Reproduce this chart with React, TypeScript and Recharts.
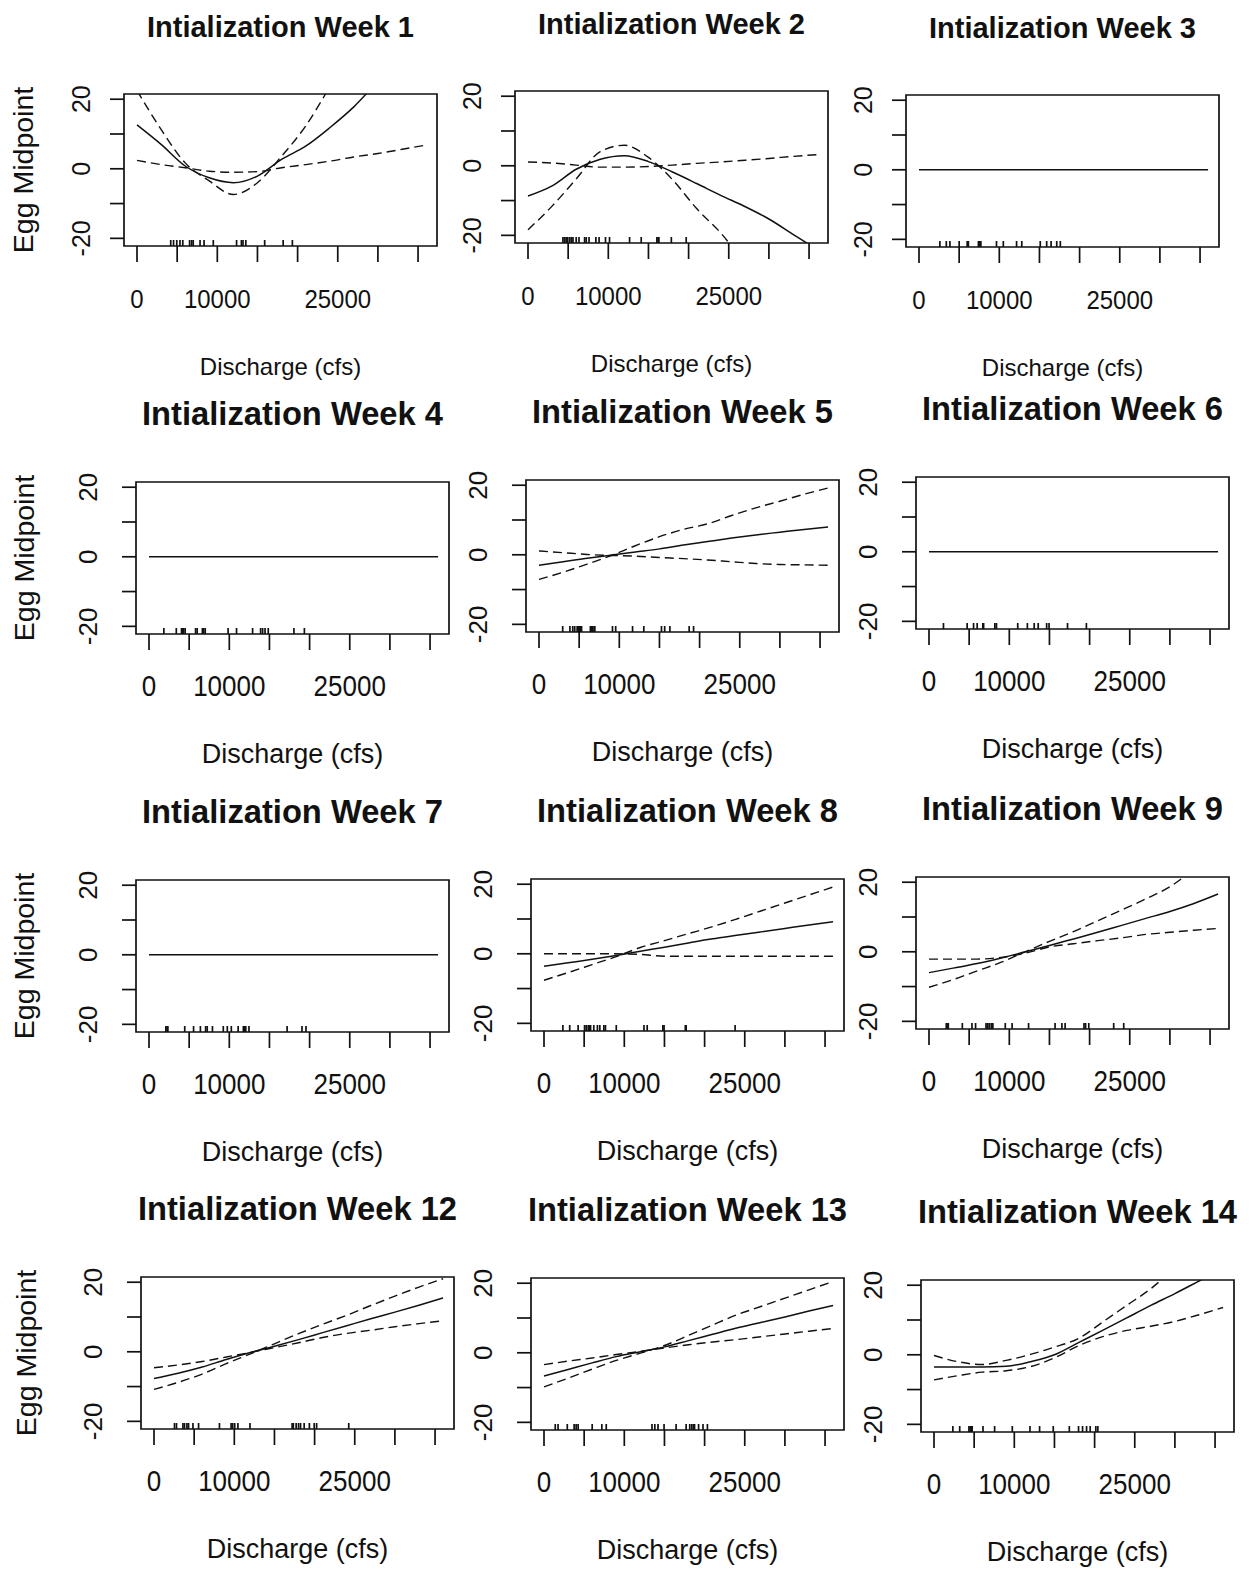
import React from 'react';
import { ComposedChart, Line, XAxis, YAxis, Scatter, ReferenceArea } from 'recharts';

// discharge grid the smooths are evaluated on (cfs)
const GRID = [0, 3000, 6000, 9000, 12000, 15000, 18000, 21000, 24000, 27000, 30000, 33000, 36000];

const X_TICKS = [0, 5000, 10000, 15000, 20000, 25000, 30000, 35000];
const X_LABELED = [0, 10000, 25000];
const Y_TICKS = [-20, -10, 0, 10, 20];
const Y_LABELED = [-20, 0, 20];
const X_DOMAIN: [number, number] = [-1620, 37360];
const Y_DOMAIN: [number, number] = [-22.2, 21.5];

// week 1
const w1Fit = [12.6, 7.0, 0.8, -2.6, -4.0, -2.1, 2.7, 6.5, 11.8, 17.8, 25.0, 31.0, 37.0];
const w1BandA = [22.5, 11.3, 1.7, -3.5, -7.4, -4.0, 3.6, 12.3, 23.6, 36.0, 48.0, 60.0, 72.0];
const w1BandB = [2.4, 1.2, 0.3, -0.7, -1.0, -0.8, 0.3, 1.2, 2.2, 3.4, 4.4, 5.6, 6.8];
const w1Rug = [4200, 4550, 4950, 5350, 5700, 6550, 6800, 7000, 7850, 8350, 9500, 12400, 13000, 13200, 13550, 15900, 18200, 19350];

// week 2
const w2Fit = [-8.7, -5.8, -1.0, 1.9, 2.9, 1.2, -1.8, -5.1, -8.5, -11.7, -15.3, -19.7, -24.1];
const w2BandA = [-18.4, -11.6, -3.8, 4.1, 5.9, 2.4, -4.0, -12.3, -19.3, -28.0, -36.0, -44.0, -52.0];
const w2BandB = [1.1, 0.8, 0.2, -0.4, -0.4, -0.2, 0.2, 0.7, 1.1, 1.6, 2.1, 2.7, 3.2];
const w2Rug = [4350, 4550, 4750, 4950, 5200, 5400, 5600, 6000, 6350, 7050, 7250, 7600, 8450, 8850, 9650, 10150, 12650, 14100, 16050, 16200, 16300, 17850, 19700];

// week 3
const w3Fit = [0, 0, 0, 0, 0, 0, 0, 0, 0, 0, 0, 0, 0];
const w3Rug = [2600, 3400, 3850, 5000, 6000, 6150, 7400, 7550, 7700, 9650, 10500, 12150, 12800, 15100, 15900, 16450, 17150, 17600];

// week 4
const w4Fit = [0, 0, 0, 0, 0, 0, 0, 0, 0, 0, 0, 0, 0];
const w4Rug = [1850, 3400, 4050, 4150, 4300, 4500, 5800, 6000, 6650, 6800, 7000, 9850, 10900, 12900, 13900, 14150, 14450, 14850, 18050, 19350];

// week 5
const w5Fit = [-3.0, -2.0, -1.0, -0.1, 0.8, 1.7, 2.8, 3.8, 4.8, 5.7, 6.5, 7.3, 8.0];
const w5BandA = [-7.1, -5.0, -2.7, -0.2, 2.6, 5.2, 7.3, 8.9, 11.3, 13.5, 15.4, 17.4, 19.2];
const w5BandB = [1.1, 0.6, 0.1, -0.2, -0.4, -0.8, -1.1, -1.5, -2.0, -2.5, -2.8, -2.9, -3.0];
const w5Rug = [2950, 3850, 4200, 4450, 4750, 4900, 5000, 5200, 5300, 6400, 6550, 6650, 6850, 6950, 9150, 9550, 11650, 13050, 15250, 15650, 16300, 18700, 19250];

// week 6
const w6Fit = [0, 0, 0, 0, 0, 0, 0, 0, 0, 0, 0, 0, 0];
const w6Rug = [1800, 4750, 5550, 6000, 6700, 6800, 8200, 8400, 11050, 12250, 13100, 13600, 14650, 14950, 17250, 19600];

// week 7
const w7Fit = [0, 0, 0, 0, 0, 0, 0, 0, 0, 0, 0, 0, 0];
const w7Rug = [2100, 2250, 2350, 4450, 5550, 6400, 7050, 7250, 7900, 9250, 9750, 10250, 11100, 11750, 11900, 12050, 12450, 17200, 19050, 19550];

// week 8
const w8Fit = [-3.6, -2.6, -1.6, -0.5, 0.7, 1.9, 3.1, 4.3, 5.3, 6.3, 7.3, 8.3, 9.2];
const w8BandA = [-7.6, -5.4, -3.1, -0.8, 1.8, 3.8, 5.8, 7.8, 10.0, 12.3, 14.6, 16.9, 19.2];
const w8BandB = [0.0, 0.0, 0.0, 0.0, -0.2, -0.7, -0.7, -0.7, -0.7, -0.7, -0.7, -0.7, -0.7];
const w8Rug = [2350, 3200, 4250, 5050, 5250, 5500, 5700, 5800, 6200, 6650, 6950, 7450, 7650, 9000, 12450, 12850, 14800, 14950, 17600, 17700, 23800];

// week 9
const w9Fit = [-6.0, -4.7, -3.4, -1.8, 0.0, 1.8, 3.7, 5.6, 7.6, 9.6, 11.6, 13.9, 16.6];
const w9BandA = [-10.2, -8.0, -5.5, -3.0, 0.0, 3.0, 5.8, 8.9, 12.0, 15.2, 18.7, 23.7, 28.7];
const w9BandB = [-2.1, -2.1, -2.1, -1.6, -0.4, 1.4, 2.3, 3.2, 4.0, 5.0, 5.6, 6.2, 6.7];
const w9Rug = [2150, 2250, 2400, 4150, 5350, 5800, 7100, 7300, 7500, 7750, 7950, 9500, 10350, 12400, 15700, 16550, 16950, 19300, 19500, 19900, 23000, 24250];

// week 12
const w12Fit = [-7.7, -6.2, -4.4, -2.2, -0.2, 1.6, 3.5, 5.5, 7.5, 9.5, 11.4, 13.4, 15.5];
const w12BandA = [-10.8, -8.8, -6.4, -3.4, -0.6, 2.3, 5.2, 7.9, 10.5, 13.3, 16.0, 18.6, 21.0];
const w12BandB = [-4.6, -3.8, -2.8, -1.5, -0.2, 1.2, 2.6, 4.1, 5.3, 6.2, 7.2, 8.1, 8.9];
const w12Rug = [2550, 2800, 3600, 3800, 4100, 4300, 4850, 5550, 8150, 9600, 9800, 10050, 10450, 11950, 17200, 17350, 17700, 18000, 18250, 18700, 19350, 19950, 20250, 24250];

// week 13
const w13Fit = [-6.7, -4.8, -2.9, -1.1, 0.3, 1.7, 3.5, 5.3, 7.1, 8.7, 10.3, 12.0, 13.6];
const w13BandA = [-9.8, -7.3, -4.7, -2.2, -0.1, 2.1, 5.0, 8.0, 10.9, 13.3, 15.7, 18.1, 20.5];
const w13BandB = [-3.4, -2.4, -1.5, -0.5, 0.4, 1.4, 2.3, 3.1, 3.8, 4.6, 5.4, 6.2, 7.0];
const w13Rug = [1400, 1750, 2900, 3750, 4000, 4250, 6000, 7200, 7750, 13450, 13800, 14200, 14950, 16450, 17700, 18150, 18400, 18600, 18750, 19250, 19800, 20350];

// week 14
const w14Fit = [-3.5, -3.5, -3.5, -3.3, -2.0, 0.0, 3.5, 7.0, 10.6, 14.2, 17.6, 21.2, 24.8];
const w14BandA = [-0.2, -2.0, -2.8, -1.6, 0.1, 2.2, 4.7, 9.4, 14.2, 19.0, 25.0, 31.0, 37.0];
const w14BandB = [-7.2, -6.0, -5.0, -4.6, -3.4, -0.9, 2.6, 5.2, 7.0, 8.2, 9.6, 11.5, 13.6];
const w14Rug = [2350, 3200, 4350, 4500, 4650, 4750, 6100, 7550, 9750, 11950, 13150, 14850, 16850, 18000, 18500, 19000, 19450, 20150, 20400];

const FONT = '"Liberation Sans", Arial, Helvetica, sans-serif';
const INK = '#111';
const BOX_W = 313;
const BOX_H = 152;
// space around the plot box inside each chart svg
const PAD_L = 130;
const PAD_T = 100;
const PAD_R = 20;
const PAD_B = 90;
const Y_AXIS_W = 40;
const X_AXIS_H = 30;

interface PanelSpec {
  title: string;
  fit: number[];
  bandA?: number[];
  bandB?: number[];
  rug: number[];
  left: number;
  top: number;
  firstRow: boolean;
  yLabelGap?: number;
}

const panels: PanelSpec[] = [
  { title: 'Intialization Week 1', fit: w1Fit, bandA: w1BandA, bandB: w1BandB, rug: w1Rug, left: 124, top: 94, firstRow: true, yLabelGap: 91 },
  { title: 'Intialization Week 2', fit: w2Fit, bandA: w2BandA, bandB: w2BandB, rug: w2Rug, left: 515, top: 91, firstRow: true },
  { title: 'Intialization Week 3', fit: w3Fit, rug: w3Rug, left: 906, top: 95, firstRow: true },
  { title: 'Intialization Week 4', fit: w4Fit, rug: w4Rug, left: 136, top: 482, firstRow: false, yLabelGap: 102 },
  { title: 'Intialization Week 5', fit: w5Fit, bandA: w5BandA, bandB: w5BandB, rug: w5Rug, left: 526, top: 480, firstRow: false },
  { title: 'Intialization Week 6', fit: w6Fit, rug: w6Rug, left: 916, top: 477, firstRow: false },
  { title: 'Intialization Week 7', fit: w7Fit, rug: w7Rug, left: 136, top: 880, firstRow: false, yLabelGap: 102 },
  { title: 'Intialization Week 8', fit: w8Fit, bandA: w8BandA, bandB: w8BandB, rug: w8Rug, left: 531, top: 879, firstRow: false },
  { title: 'Intialization Week 9', fit: w9Fit, bandA: w9BandA, bandB: w9BandB, rug: w9Rug, left: 916, top: 877, firstRow: false },
  { title: 'Intialization Week 12', fit: w12Fit, bandA: w12BandA, bandB: w12BandB, rug: w12Rug, left: 141, top: 1277, firstRow: false, yLabelGap: 105 },
  { title: 'Intialization Week 13', fit: w13Fit, bandA: w13BandA, bandB: w13BandB, rug: w13Rug, left: 531, top: 1278, firstRow: false },
  { title: 'Intialization Week 14', fit: w14Fit, bandA: w14BandA, bandB: w14BandB, rug: w14Rug, left: 921, top: 1280, firstRow: false },
];

const XTick = (props: any) => {
  const { x, y, payload, fontSize } = props;
  if (!X_LABELED.includes(payload.value)) return <g />;
  const by = y + 46;
  // digits are drawn slightly taller than wide
  return (
    <text x={x} y={by} transform={`translate(0, ${by}) scale(1, 1.1) translate(0, ${-by})`} textAnchor="middle" fontSize={fontSize} fontFamily={FONT} fill={INK}>
      {payload.value}
    </text>
  );
};

const YTick = (props: any) => {
  const { x, y, payload, fontSize, gap } = props;
  if (!Y_LABELED.includes(payload.value)) return <g />;
  const bx = x - gap;
  return (
    <text x={bx} y={y} transform={`rotate(-90, ${bx}, ${y})`} textAnchor="middle" fontSize={fontSize} fontFamily={FONT} fill={INK}>
      {payload.value}
    </text>
  );
};

const RugMark = (props: any) => {
  const { cx, cy } = props;
  return <line x1={cx} x2={cx} y1={cy} y2={cy - 6} stroke={INK} strokeWidth={1.7} />;
};

const Panel: React.FC<{ spec: PanelSpec }> = ({ spec }) => {
  const rows = GRID.map((x, i) => ({
    x,
    fit: spec.fit[i],
    a: spec.bandA ? spec.bandA[i] : undefined,
    b: spec.bandB ? spec.bandB[i] : undefined,
  }));
  const rugRows = spec.rug.map((x) => ({ x, y: Y_DOMAIN[0] }));
  const tickFont = spec.firstRow ? 24 : 26;
  const yTickFont = spec.firstRow ? 25 : 26;
  const yGap = spec.firstRow ? 20 : 25;

  return (
    <div style={{ position: 'absolute', left: spec.left - PAD_L, top: spec.top - PAD_T }}>
      <ComposedChart
        width={PAD_L + BOX_W + PAD_R}
        height={PAD_T + BOX_H + PAD_B}
        data={rows}
        margin={{ top: PAD_T, right: PAD_R, left: PAD_L - Y_AXIS_W, bottom: PAD_B - X_AXIS_H }}
      >
        <XAxis
          dataKey="x"
          type="number"
          domain={X_DOMAIN}
          ticks={X_TICKS}
          allowDataOverflow
          axisLine={false}
          tickSize={16}
          tickMargin={0}
          height={X_AXIS_H}
          tickLine={{ stroke: INK, strokeWidth: 1.7 }}
          tick={<XTick fontSize={tickFont} />}
          interval={0}
        />
        <YAxis
          type="number"
          domain={Y_DOMAIN}
          ticks={Y_TICKS}
          allowDataOverflow
          axisLine={false}
          tickSize={14}
          tickMargin={0}
          width={Y_AXIS_W}
          tickLine={{ stroke: INK, strokeWidth: 1.7 }}
          tick={<YTick fontSize={yTickFont} gap={yGap} />}
          interval={0}
        />
        <ReferenceArea
          x1={X_DOMAIN[0]}
          x2={X_DOMAIN[1]}
          y1={Y_DOMAIN[0]}
          y2={Y_DOMAIN[1]}
          fill="none"
          stroke={INK}
          strokeWidth={1.7}
          ifOverflow="visible"
        />
        {spec.bandA && (
          <Line dataKey="a" type="monotone" stroke={INK} strokeWidth={1.4} strokeDasharray="9 5" dot={false} activeDot={false} isAnimationActive={false} />
        )}
        {spec.bandB && (
          <Line dataKey="b" type="monotone" stroke={INK} strokeWidth={1.4} strokeDasharray="9 5" dot={false} activeDot={false} isAnimationActive={false} />
        )}
        <Line dataKey="fit" type="monotone" stroke={INK} strokeWidth={1.5} dot={false} activeDot={false} isAnimationActive={false} />
        <Scatter data={rugRows} dataKey="y" shape={<RugMark />} isAnimationActive={false} />
      </ComposedChart>
    </div>
  );
};

export default function App() {
  return (
    <div style={{ position: 'absolute', left: 0, top: 0, width: 1250, height: 1570, background: '#fff', overflow: 'hidden' }}>
      {panels.map((p) => (
        <Panel key={p.title} spec={p} />
      ))}
      <svg width={1250} height={1570} style={{ position: 'absolute', left: 0, top: 0, pointerEvents: 'none' }}>
        {panels.map((p) => {
          const cx = p.left + BOX_W / 2;
          const cy = p.top + BOX_H / 2;
          const titleSize = p.firstRow ? 29 : 32.7;
          const labSize = p.firstRow ? 24 : 27;
          return (
            <g key={p.title} fontFamily={FONT} fill={INK}>
              <text x={cx} y={p.top - 57} textAnchor="middle" fontSize={titleSize} fontWeight="bold">
                {p.title}
              </text>
              <text x={cx} y={p.top + BOX_H + 129} textAnchor="middle" fontSize={labSize}>
                Discharge (cfs)
              </text>
              {p.yLabelGap !== undefined && (
                <text
                  x={p.left - p.yLabelGap}
                  y={cy}
                  transform={`rotate(-90, ${p.left - p.yLabelGap}, ${cy})`}
                  textAnchor="middle"
                  fontSize={28.5}
                >
                  Egg Midpoint
                </text>
              )}
            </g>
          );
        })}
      </svg>
    </div>
  );
}
